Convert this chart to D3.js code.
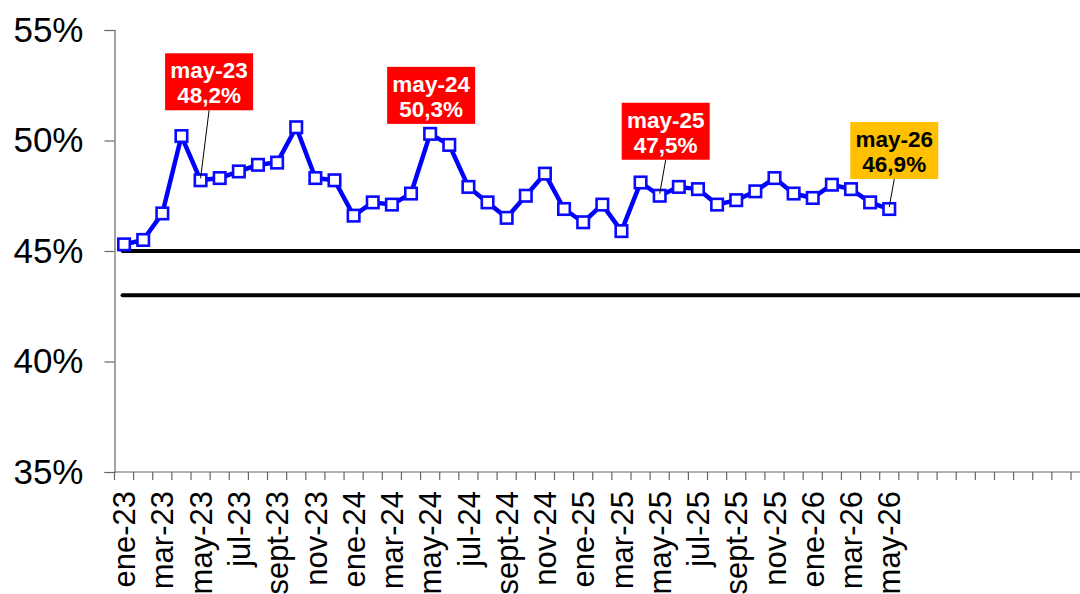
<!DOCTYPE html>
<html>
<head>
<meta charset="utf-8">
<script src="https://cdn.jsdelivr.net/npm/d3@7"></script>
<style>
  html, body { margin: 0; padding: 0; background: #fff; }
  svg { display: block; }
</style>
</head>
<body>
<svg id="chart" width="1080" height="594"></svg>
<script>
// ---- DATA ----
const categories = [
  "ene-23","feb-23","mar-23","abr-23","may-23","jun-23","jul-23","ago-23","sept-23","oct-23","nov-23","dic-23",
  "ene-24","feb-24","mar-24","abr-24","may-24","jun-24","jul-24","ago-24","sept-24","oct-24","nov-24","dic-24",
  "ene-25","feb-25","mar-25","abr-25","may-25","jun-25","jul-25","ago-25","sept-25","oct-25","nov-25","dic-25",
  "ene-26","feb-26","mar-26","abr-26","may-26"
];
const values = [
  45.3, 45.5, 46.7, 50.2, 48.2, 48.3, 48.6, 48.9, 49.0, 50.6, 48.3, 48.2,
  46.6, 47.2, 47.1, 47.6, 50.3, 49.8, 47.9, 47.2, 46.5, 47.5, 48.5, 46.9,
  46.3, 47.1, 45.9, 48.1, 47.5, 47.9, 47.8, 47.1, 47.3, 47.7, 48.3, 47.6,
  47.4, 48.0, 47.8, 47.2, 46.9
];
const referenceLines = [45, 43];
const yTicks = [35, 40, 45, 50, 55];
const annotationMonths = ["may-23", "may-24", "may-25", "may-26"];
const annotationTexts = [["may-23","48,2%"], ["may-24","50,3%"], ["may-25","47,5%"], ["may-26","46,9%"]];

// ---- LAYOUT / STYLE ----
const totalSlots = 51;
const slotWidth = 19.13;
const x0 = 114.5;
const annStyle = [
  { fill: "#FF0000", color: "#FFFFFF", dx: 8.5, dy: -127, leader: true },
  { fill: "#FF0000", color: "#FFFFFF", dx: 1, dy: -67, leader: false },
  { fill: "#FF0000", color: "#FFFFFF", dx: 6, dy: -93, leader: true },
  { fill: "#FFC000", color: "#000000", dx: 5, dy: -87, leader: true }
];
const boxW = 88, boxH = 57;

const svg = d3.select("#chart");
svg.append("rect").attr("width", 1080).attr("height", 594).attr("fill", "#fff");

const x = d3.scaleBand().domain(d3.range(totalSlots)).range([x0, x0 + totalSlots * slotWidth]).padding(0);
const y = d3.scaleLinear().domain([35, 55]).range([472, 30]);
const cx = i => x(i) + x.bandwidth() / 2;

const axisColor = "#666";

// Y axis
const yAxis = d3.axisLeft(y).tickValues(yTicks).tickSize(10).tickFormat(d => d + "%");
const gy = svg.append("g").attr("transform", `translate(${x0},0)`).call(yAxis);
gy.select(".domain").attr("stroke", axisColor).attr("stroke-width", 1.2);
gy.selectAll(".tick line").attr("stroke", axisColor).attr("stroke-width", 1.2);
gy.selectAll(".tick text")
  .attr("x", -31)
  .attr("font-family", "Liberation Sans, Arial, sans-serif")
  .attr("font-size", 35)
  .attr("fill", "#000");

// X axis line
svg.append("line")
  .attr("x1", x0).attr("x2", 1080)
  .attr("y1", y(35)).attr("y2", y(35))
  .attr("stroke", axisColor).attr("stroke-width", 1.2);

// X ticks at band edges
svg.append("g").selectAll("line")
  .data(d3.range(totalSlots + 1))
  .join("line")
  .attr("x1", i => x0 + i * x.bandwidth())
  .attr("x2", i => x0 + i * x.bandwidth())
  .attr("y1", y(35)).attr("y2", y(35) + 8)
  .attr("stroke", axisColor).attr("stroke-width", 1.2);

// X labels (every other month)
svg.append("g").selectAll("text")
  .data(categories.map((c, i) => ({ c, i })).filter(d => d.i % 2 === 0))
  .join("text")
  .attr("transform", d => `translate(${cx(d.i)},${y(35) + 19}) rotate(-90)`)
  .attr("text-anchor", "end")
  .attr("dy", "0.36em")
  .attr("font-family", "Liberation Sans, Arial, sans-serif")
  .attr("font-size", 31)
  .attr("fill", "#000")
  .text(d => d.c);

// Reference lines
svg.append("g").selectAll("line")
  .data(referenceLines)
  .join("line")
  .attr("x1", cx(0) - 1.5).attr("x2", 1082)
  .attr("y1", d => y(d)).attr("y2", d => y(d))
  .attr("stroke", "#000").attr("stroke-width", 4)
  .attr("stroke-linecap", "round");

// Data line
const line = d3.line().x((d, i) => cx(i)).y(d => y(d));
svg.append("path")
  .datum(values)
  .attr("d", line)
  .attr("fill", "none")
  .attr("stroke", "#0000FF")
  .attr("stroke-width", 4.5)
  .attr("stroke-linejoin", "round");

// Markers
const ms = 11.5;
svg.append("g").selectAll("rect")
  .data(values)
  .join("rect")
  .attr("x", (d, i) => cx(i) - ms / 2)
  .attr("y", d => y(d) - ms / 2)
  .attr("width", ms).attr("height", ms)
  .attr("fill", "#fff")
  .attr("stroke", "#0a0aff")
  .attr("stroke-width", 2.6);

// Annotations
annotationMonths.forEach((m, k) => {
  const i = categories.indexOf(m);
  const px = cx(i), py = y(values[i]);
  const st = annStyle[k];
  const bx = px + st.dx - boxW / 2;
  const by = py + st.dy;
  const g = svg.append("g");
  if (st.leader) {
    g.append("line")
      .attr("x1", px + st.dx).attr("y1", by + boxH)
      .attr("x2", px).attr("y2", py - 2)
      .attr("stroke", "#000").attr("stroke-width", 1);
  }
  g.append("rect")
    .attr("x", bx).attr("y", by)
    .attr("width", boxW).attr("height", boxH)
    .attr("fill", st.fill);
  g.selectAll("text")
    .data(annotationTexts[k])
    .join("text")
    .attr("x", bx + boxW / 2)
    .attr("y", (d, j) => by + 25 + j * 25)
    .attr("text-anchor", "middle")
    .attr("font-family", "Liberation Sans, Arial, sans-serif")
    .attr("font-weight", "bold")
    .attr("font-size", 22.5)
    .attr("fill", st.color)
    .text(d => d);
});
</script>
</body>
</html>
